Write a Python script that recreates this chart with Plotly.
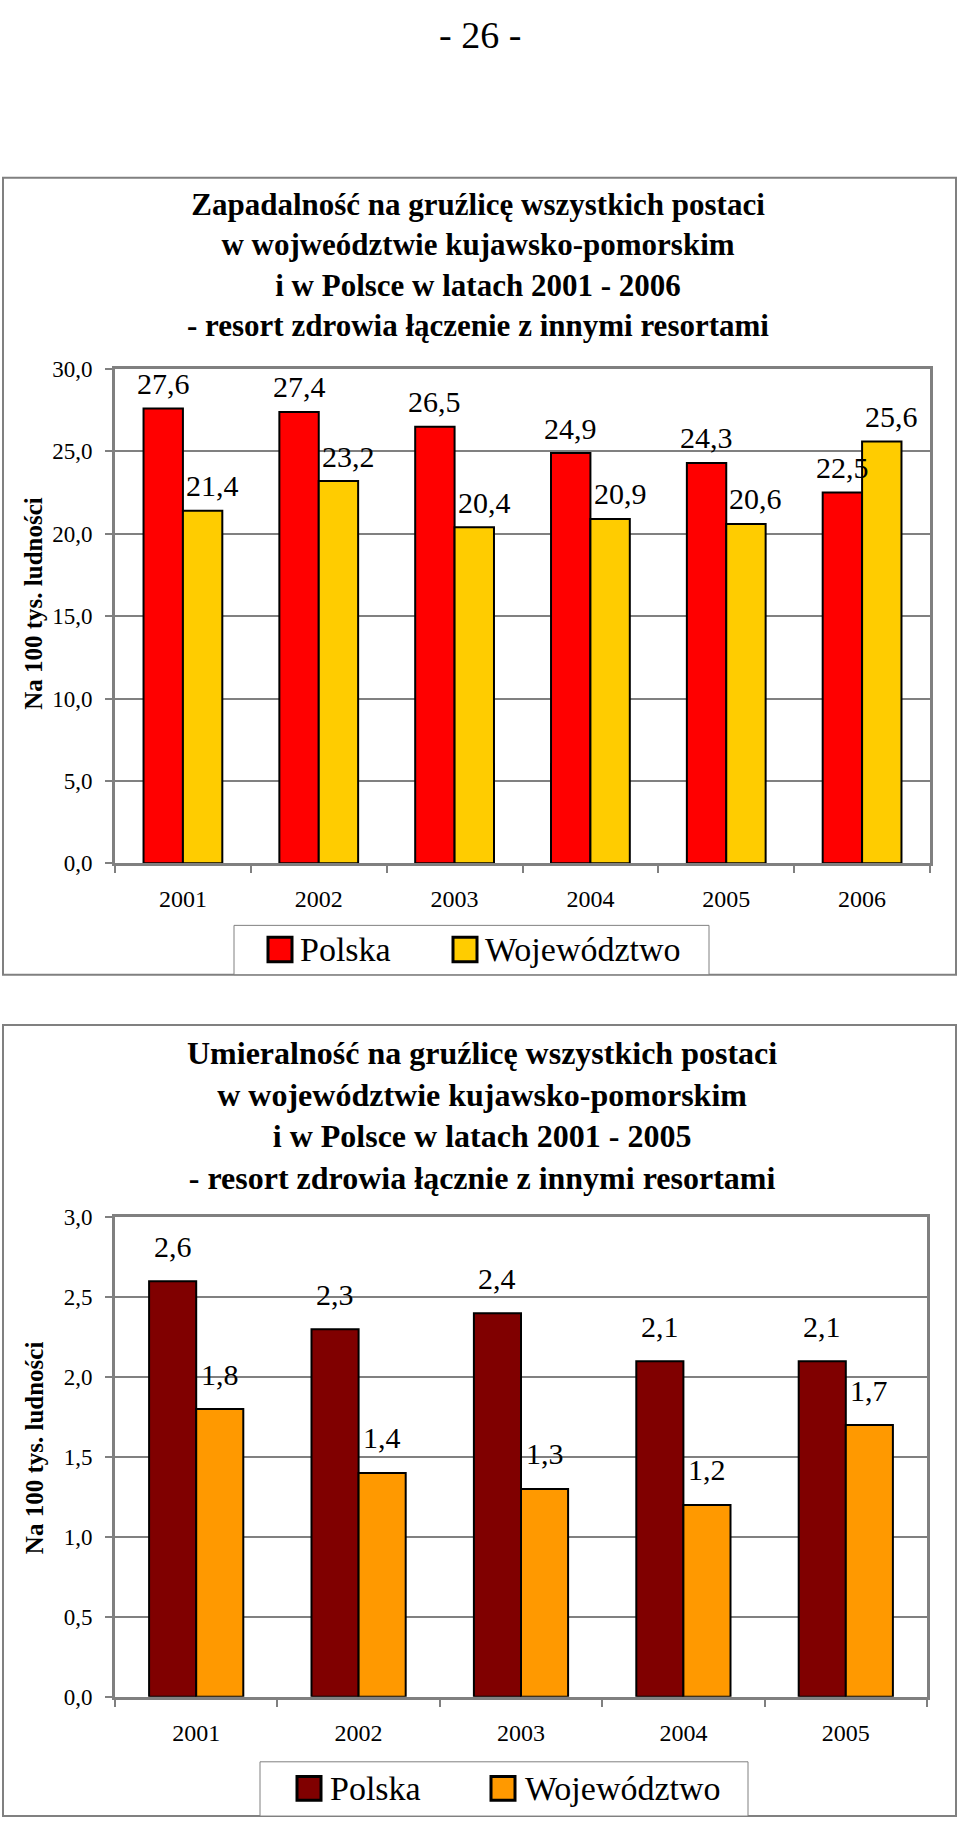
import plotly.graph_objects as go

# ---------------- data ----------------
years_1 = ["2001", "2002", "2003", "2004", "2005", "2006"]
polska_1 = [27.6, 27.4, 26.5, 24.9, 24.3, 22.5]
woj_1 = [21.4, 23.2, 20.4, 20.9, 20.6, 25.6]

years_2 = ["2001", "2002", "2003", "2004", "2005"]
polska_2 = [2.6, 2.3, 2.4, 2.1, 2.1]
woj_2 = [1.8, 1.4, 1.3, 1.2, 1.7]

series_names = ["Polska", "Województwo"]
title_1 = ["Zapadalność na gruźlicę wszystkich postaci",
           "w wojweództwie kujawsko-pomorskim",
           "i w Polsce w latach 2001 - 2006",
           "- resort zdrowia łączenie z innymi resortami"]
title_2 = ["Umieralność na gruźlicę wszystkich postaci",
           "w województwie kujawsko-pomorskim",
           "i w Polsce w latach 2001 - 2005",
           "- resort zdrowia łącznie z innymi resortami"]
y_title = "Na 100 tys. ludności"
page_label = "- 26 -"

# ---------------- style ----------------
W, H = 960, 1833
FONT = "Liberation Serif, Times New Roman, serif"
C1 = ["#FF0000", "#FFCC00"]
C2 = ["#800000", "#FF9900"]
GRAY = "#808080"


def px(x):
    return x / W


def py(y):
    return 1 - y / H


def fmt(v):
    return f"{v:.1f}".replace(".", ",")


fig = go.Figure()

for xs, ys, cols, xa, ya in [(years_1, [polska_1, woj_1], C1, "x", "y"),
                             (years_2, [polska_2, woj_2], C2, "x2", "y2")]:
    for vals, col, name in zip(ys, cols, series_names):
        fig.add_trace(go.Bar(x=xs, y=vals, name=name,
                             marker=dict(color=col, line=dict(color="black", width=2)),
                             xaxis=xa, yaxis=ya, showlegend=False, hoverinfo="x+y"))

annotations = []
# data labels (x given as category index)
bw1 = (930 - 115) / len(years_1) * 0.58 / 2
bw2 = (927 - 115) / len(years_2) * 0.58 / 2
for vals, sx in [(polska_1, -bw1 / 2), (woj_1, bw1 / 2 + 10)]:
    for i, v in enumerate(vals):
        annotations.append(dict(x=i, y=v, xref="x", yref="y", text=fmt(v), showarrow=False,
                                xshift=sx, yshift=25, xanchor="center", yanchor="middle",
                                font=dict(family=FONT, size=30, color="black")))
for vals, sx in [(polska_2, -bw2 / 2), (woj_2, bw2 / 2)]:
    for i, v in enumerate(vals):
        annotations.append(dict(x=i, y=v, xref="x2", yref="y2", text=fmt(v), showarrow=False,
                                xshift=sx, yshift=35, xanchor="center", yanchor="middle",
                                font=dict(family=FONT, size=30, color="black")))

# titles
annotations.append(dict(x=px(478), y=py(256), xref="paper", yref="paper", showarrow=False,
                        text="<br>".join(f"<b>{t}</b>" for t in title_1),
                        xanchor="center", yanchor="middle",
                        font=dict(family=FONT, size=31, color="black")))
annotations.append(dict(x=px(482), y=py(1119), xref="paper", yref="paper", showarrow=False,
                        text="<br>".join(f"<b>{t}</b>" for t in title_2),
                        xanchor="center", yanchor="middle",
                        font=dict(family=FONT, size=32, color="black")))
# y titles
for yc in (600, 1456):
    annotations.append(dict(x=px(34), y=py(yc), xref="paper", yref="paper", showarrow=False,
                            text=f"<b>{y_title}</b>", textangle=-90,
                            xanchor="center", yanchor="middle",
                            font=dict(family=FONT, size=25, color="black")))
# page number
annotations.append(dict(x=px(480), y=py(23), xref="paper", yref="paper", showarrow=False,
                        text=page_label, xanchor="center", yanchor="middle",
                        font=dict(family=FONT, size=38, color="black")))

shapes = []
# chart frames
for (x0, y0, x1, y1) in [(3, 168, 956, 976), (3, 1027, 956, 1829)]:
    shapes.append(dict(type="rect", xref="paper", yref="paper", x0=px(x0), x1=px(x1), y0=py(y0), y1=py(y1),
                       line=dict(color=GRAY, width=2)))

# legends (drawn manually so the keys can match the reference size)
legend_specs = [
    dict(box=(234, 926, 709, 976), colors=C1, sq_y=(938, 963),
         text_x=[298, 483], key_x=[(268, 292), (453, 477)]),
    dict(box=(260, 1774, 748, 1829), colors=C2, sq_y=(1789, 1813),
         text_x=[328, 523], key_x=[(297, 321), (491, 515)]),
]
for spec in legend_specs:
    x0, y0, x1, y1 = spec["box"]
    shapes.append(dict(type="rect", xref="paper", yref="paper", x0=px(x0), x1=px(x1), y0=py(y0), y1=py(y1),
                       line=dict(color=GRAY, width=1), fillcolor="white"))
    sy0, sy1 = spec["sq_y"]
    for (kx0, kx1), col, tx, name in zip(spec["key_x"], spec["colors"], spec["text_x"], series_names):
        shapes.append(dict(type="rect", xref="paper", yref="paper", x0=px(kx0), x1=px(kx1), y0=py(sy0), y1=py(sy1),
                           line=dict(color="black", width=3), fillcolor=col))
        annotations.append(dict(x=px(tx), y=py((sy0 + sy1) / 2), xref="paper", yref="paper", showarrow=False,
                                text=name, xanchor="left", yanchor="middle",
                                font=dict(family=FONT, size=34, color="black")))

xaxis_common = dict(type="category", showgrid=False, ticks="outside", tickson="boundaries", ticklen=7,
                    tickcolor=GRAY, tickwidth=2, showline=True, linecolor=GRAY, linewidth=3, mirror=True,
                    tickangle=0, tickfont=dict(family=FONT, size=24, color="black"),
                    ticklabelstandoff=12, fixedrange=True)
yaxis_common = dict(showgrid=True, gridcolor=GRAY, gridwidth=2, zeroline=False, ticks="outside", ticklen=7,
                    tickcolor=GRAY, tickwidth=2, showline=True, linecolor=GRAY, linewidth=3, mirror=True,
                    tickformat=".1f", tickfont=dict(family=FONT, size=23, color="black"),
                    ticklabelstandoff=8, fixedrange=True)

fig.update_layout(
    width=W, height=H, autosize=False,
    margin=dict(l=0, r=0, t=0, b=0),
    paper_bgcolor="white", plot_bgcolor="white",
    separators=", ",
    barmode="group", bargap=0.42, bargroupgap=0,
    showlegend=False,
    xaxis=dict(domain=[px(115), px(930)], anchor="y", range=[-0.5, len(years_1) - 0.5], **xaxis_common),
    yaxis=dict(domain=[py(863), py(362)], anchor="x", range=[0, 30], dtick=5, **yaxis_common),
    xaxis2=dict(domain=[px(115), px(927)], anchor="y2", range=[-0.5, len(years_2) - 0.5], **xaxis_common),
    yaxis2=dict(domain=[py(1708), py(1222)], anchor="x2", range=[0, 3], dtick=0.5, **yaxis_common),
    annotations=annotations,
    shapes=shapes,
)

fig.write_html("out.html", config={"displayModeBar": False},
               post_script="document.documentElement.style.margin='0';document.documentElement.style.overflow='hidden';"
                           "document.body.style.margin='0';document.body.style.padding='0';document.body.style.overflow='hidden';")
